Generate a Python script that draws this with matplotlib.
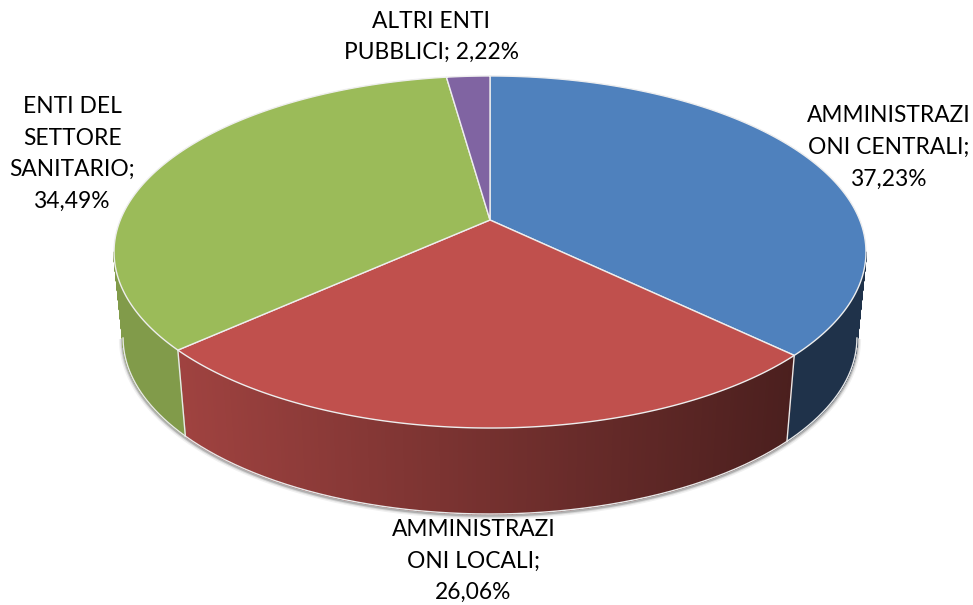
import numpy as np
import matplotlib
matplotlib.use('Agg')
import matplotlib.pyplot as plt
from matplotlib.collections import PolyCollection
from matplotlib.colors import to_rgb

names = ["AMMINISTRAZI\nONI CENTRALI;", "AMMINISTRAZI\nONI LOCALI;", "ENTI DEL\nSETTORE\nSANITARIO;", "ALTRI ENTI\nPUBBLICI;"]
shares = [37.23, 26.06, 34.49, 2.22]
shares_text = ["37,23%", "26,06%", "34,49%", "2,22%"]
colors = ["#4f81bd", "#c0504d", "#9bbb59", "#8064a2"]
label_pos = [(889, 147.5), (473.5, 561), (72, 154), (431, 37)]
label_sep = ["\n", "\n", "\n", " "]

plt.rcParams['font.family'] = ['Lato', 'DejaVu Sans']


# top of the pie is a tilted circle, so the middle is not the ellipse centre
def project(theta):
    u = np.sin(theta)
    v = np.cos(theta)
    w = 1 + 0.1818 * v
    return 490 + 369.7 * u / w, (220 - 130.2 * v) / w


def lower(x, y):
    return 490 + 0.976 * (x - 490), y + 86


fig = plt.figure(figsize=(9.73, 6.05), dpi=100)
ax = fig.add_axes([0, 0, 1, 1])
ax.set_xlim(0, 973)
ax.set_ylim(605, 0)
ax.axis('off')

edges = np.cumsum([0] + shares) / 100 * 2 * np.pi
# only this part of the wall faces the viewer
first = np.arccos(-0.1818)
last = 2 * np.pi - first

# soft shadow under the wall
t = np.linspace(first, last, 300)
sx, sy = lower(*project(t))
for lw, a in zip([6, 4, 2.5], [0.06, 0.1, 0.18]):
    ax.plot(sx, sy + 1, color='black', alpha=a, lw=lw, zorder=1, solid_capstyle='butt')

# side wall, cut in thin strips for the shading
for i in range(len(shares)):
    start = max(edges[i], first)
    stop = min(edges[i + 1], last)
    if stop <= start:
        continue
    t = np.linspace(start, stop, 160)
    x, y = project(t)
    x2, y2 = lower(x, y)
    strips = []
    strip_colors = []
    for k in range(len(t) - 1):
        strips.append([(x[k], y[k]), (x[k + 1], y[k + 1]), (x2[k + 1], y2[k + 1]), (x2[k], y2[k])])
        shade = np.interp((x[k] + x[k + 1]) / 2, [178, 793], [0.83, 0.39])
        strip_colors.append(np.array(to_rgb(colors[i])) * shade)
    ax.add_collection(PolyCollection(strips, facecolors=strip_colors, edgecolors=strip_colors, linewidths=1.0, zorder=2))
    ax.plot(x2, y2, color='#e8e8e8', lw=1.0, zorder=3)
    # white seam where the slices meet on the wall
    if first < edges[i] < last:
        ax.plot([x[0], x2[0]], [y[0], y2[0]], color='#e8e8e8', lw=1.0, zorder=3)

# top faces
for i in range(len(shares)):
    t = np.linspace(edges[i], edges[i + 1], 200)
    x, y = project(t)
    px = np.concatenate([[490], x])
    py = np.concatenate([[220], y])
    ax.fill(px, py, facecolor=colors[i], edgecolor='#eeeeee', lw=1.0, zorder=4)

for i in range(len(shares)):
    ax.text(label_pos[i][0], label_pos[i][1], names[i] + label_sep[i] + shares_text[i],
            ha='center', va='center', fontsize=16.4, color='black', linespacing=1.62, zorder=5)

fig.savefig('out.png', dpi=100)
